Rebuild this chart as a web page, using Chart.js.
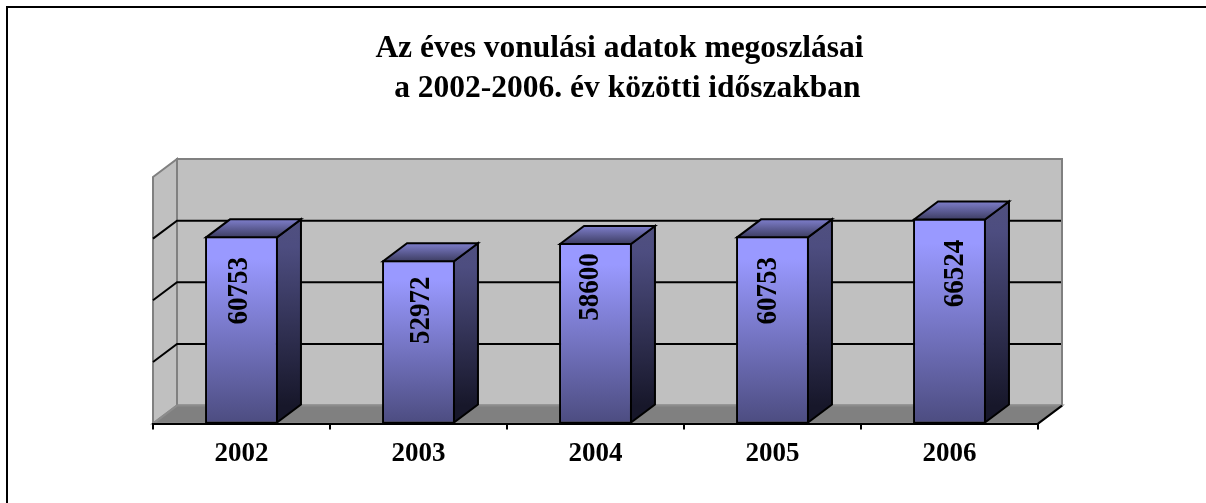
<!DOCTYPE html>
<html>
<head>
<meta charset="utf-8">
<style>
  html, body { margin: 0; padding: 0; background: #fff; overflow: hidden; }
  #frame { position: absolute; left: 6px; top: 6px; right: 0; bottom: 0; border-left: 2px solid #000; border-top: 2px solid #000; }
  #chart { position: absolute; left: 0; top: 0; }
</style>
</head>
<body>
<div id="frame"></div>
<canvas id="chart" width="1206" height="503"></canvas>
<script src="https://cdn.jsdelivr.net/npm/chart.js@4"></script>
<script>
const titleLines = ['Az éves vonulási adatok megoszlásai', '  a 2002-2006. év közötti időszakban'];
const years = ['2002', '2003', '2004', '2005', '2006'];
const values = [60753, 52972, 58600, 60753, 66524];
const yTicksMax = 80000;
const yTicksStep = 20000;

// the fake 3D offset of the back wall
const DX = 24, DY = 18;
const SERIF = '"Liberation Serif", "Times New Roman", serif';
// the value labels were placed by hand in the original: [from bar centre, from bar top]
const LABEL_NUDGE = [[-2, 54.5], [3, 50], [-5.5, 44], [-4, 54.5], [5.5, 55]];

function poly(ctx, pts) {
  ctx.beginPath();
  pts.forEach((p, i) => i ? ctx.lineTo(p[0], p[1]) : ctx.moveTo(p[0], p[1]));
  ctx.closePath();
}

function vGrad(ctx, y0, y1, stops) {
  const g = ctx.createLinearGradient(0, y0, 0, y1);
  stops.forEach(s => g.addColorStop(s[0], s[1]));
  return g;
}

// walls, floor and gridlines, behind everything
const walls = {
  id: 'walls',
  beforeDraw(chart) {
    const { ctx, chartArea: a, scales } = chart;
    ctx.save();
    ctx.fillStyle = '#c0c0c0';
    ctx.strokeStyle = '#808080';
    ctx.lineWidth = 2;
    poly(ctx, [[a.left, a.top], [a.left + DX, a.top - DY], [a.left + DX, a.bottom - DY], [a.left, a.bottom]]);
    ctx.fill(); ctx.stroke();
    poly(ctx, [[a.left + DX, a.top - DY], [a.right + DX, a.top - DY], [a.right + DX, a.bottom - DY], [a.left + DX, a.bottom - DY]]);
    ctx.fill(); ctx.stroke();
    ctx.fillStyle = '#808080';
    ctx.strokeStyle = '#8c8c8c';
    poly(ctx, [[a.left, a.bottom], [a.left + DX, a.bottom - DY], [a.right + DX, a.bottom - DY], [a.right, a.bottom]]);
    ctx.fill(); ctx.stroke();

    ctx.strokeStyle = '#000';
    ctx.beginPath();
    ctx.moveTo(a.right, a.bottom);
    ctx.lineTo(a.right + DX, a.bottom - DY);
    ctx.stroke();
    scales.y.ticks.forEach(t => {
      if (t.value <= 0 || t.value >= yTicksMax) return;
      const y = scales.y.getPixelForValue(t.value);
      ctx.beginPath();
      ctx.moveTo(a.left, y);
      ctx.lineTo(a.left + DX, y - DY);
      ctx.lineTo(a.right + DX - 1, y - DY);
      ctx.stroke();
    });
    ctx.restore();
  },
  afterLayout(chart) {
    // title sits right of the plot centre in the original
    if (chart.titleBlock) {
      chart.titleBlock.left += 28;
      chart.titleBlock.right += 28;
    }
  }
};

// side and top faces of the bars plus the rotated value labels
const barFaces = {
  id: 'barFaces',
  afterDatasetsDraw(chart) {
    const { ctx } = chart;
    const base = chart.scales.y.getPixelForValue(0);
    chart.getDatasetMeta(0).data.forEach((bar, i) => {
      const p = bar.getProps(['x', 'y', 'width'], true);
      const l = p.x - p.width / 2, r = p.x + p.width / 2 , top = p.y;
      ctx.save();
      ctx.lineWidth = 2;
      ctx.lineJoin = 'miter';
      ctx.strokeStyle = '#000';
      ctx.fillStyle = vGrad(ctx, top - DY, base - DY, [[0, '#50507f'], [0.15, '#4d4d80'], [1, '#17172a']]);
      poly(ctx, [[r - 1, top + 1], [r - 1 + DX, top + 1 - DY], [r - 1 + DX, base - 1 - DY], [r - 1, base - 1]]);
      ctx.fill(); ctx.stroke();
      ctx.fillStyle = vGrad(ctx, top + 1 - DY, top + 1, [[0, '#7e7ecb'], [1, '#3d3d62']]);
      poly(ctx, [[l + 1, top + 1], [l + 1 + DX, top + 1 - DY], [r - 1 + DX, top + 1 - DY], [r - 1, top + 1]]);
      ctx.fill(); ctx.stroke();

      ctx.translate(p.x + LABEL_NUDGE[i][0], top + LABEL_NUDGE[i][1]);
      ctx.rotate(-Math.PI / 2);
      ctx.scale(1, 1.12);   // the original digits are a bit taller than wide
      ctx.fillStyle = '#000';
      ctx.font = 'bold 27px ' + SERIF;
      ctx.textAlign = 'center';
      ctx.textBaseline = 'middle';
      ctx.fillText(String(values[i]), 0, 0);
      ctx.restore();
    });
  }
};

new Chart(document.getElementById('chart'), {
  type: 'bar',
  data: {
    labels: years,
    datasets: [{
      data: values,
      borderColor: '#000',
      borderWidth: 2,
      borderSkipped: false,
      backgroundColor(c) {
        const y = c.chart.scales.y;
        if (!y || !c.parsed) return '#9999ff';
        const y0 = y.getPixelForValue(c.parsed.y), y1 = y.getPixelForValue(0);
        if (!Number.isFinite(y0) || !Number.isFinite(y1)) return '#9999ff';
        return vGrad(c.chart.ctx, y0, y1, [[0, '#9999ff'], [0.12, '#9999ff'], [1, '#4c4c80']]);
      },
      barPercentage: 0.412,
      categoryPercentage: 1
    }]
  },
  options: {
    responsive: false,
    animation: false,
    layout: { padding: { left: 145, right: 168, top: 29, bottom: 25 } },
    plugins: {
      legend: { display: false },
      tooltip: { enabled: false },
      title: {
        display: true,
        text: titleLines,
        color: '#000',
        font: { family: SERIF, size: 31.5, weight: 'bold', lineHeight: 1.27 },
        padding: { top: 0, bottom: 68 }
      }
    },
    scales: {
      x: {
        grid: { display: true, drawOnChartArea: false, color: '#000', lineWidth: 2, tickLength: 6 },
        border: { display: true, color: '#000', width: 2 },
        ticks: { color: '#000', padding: 8, font: { family: SERIF, size: 27, weight: 'bold' } }
      },
      y: {
        min: 0,
        max: yTicksMax,
        grid: { display: false },
        border: { display: false },
        ticks: { display: false, stepSize: yTicksStep }
      }
    }
  },
  plugins: [walls, barFaces]
});
</script>
</body>
</html>
